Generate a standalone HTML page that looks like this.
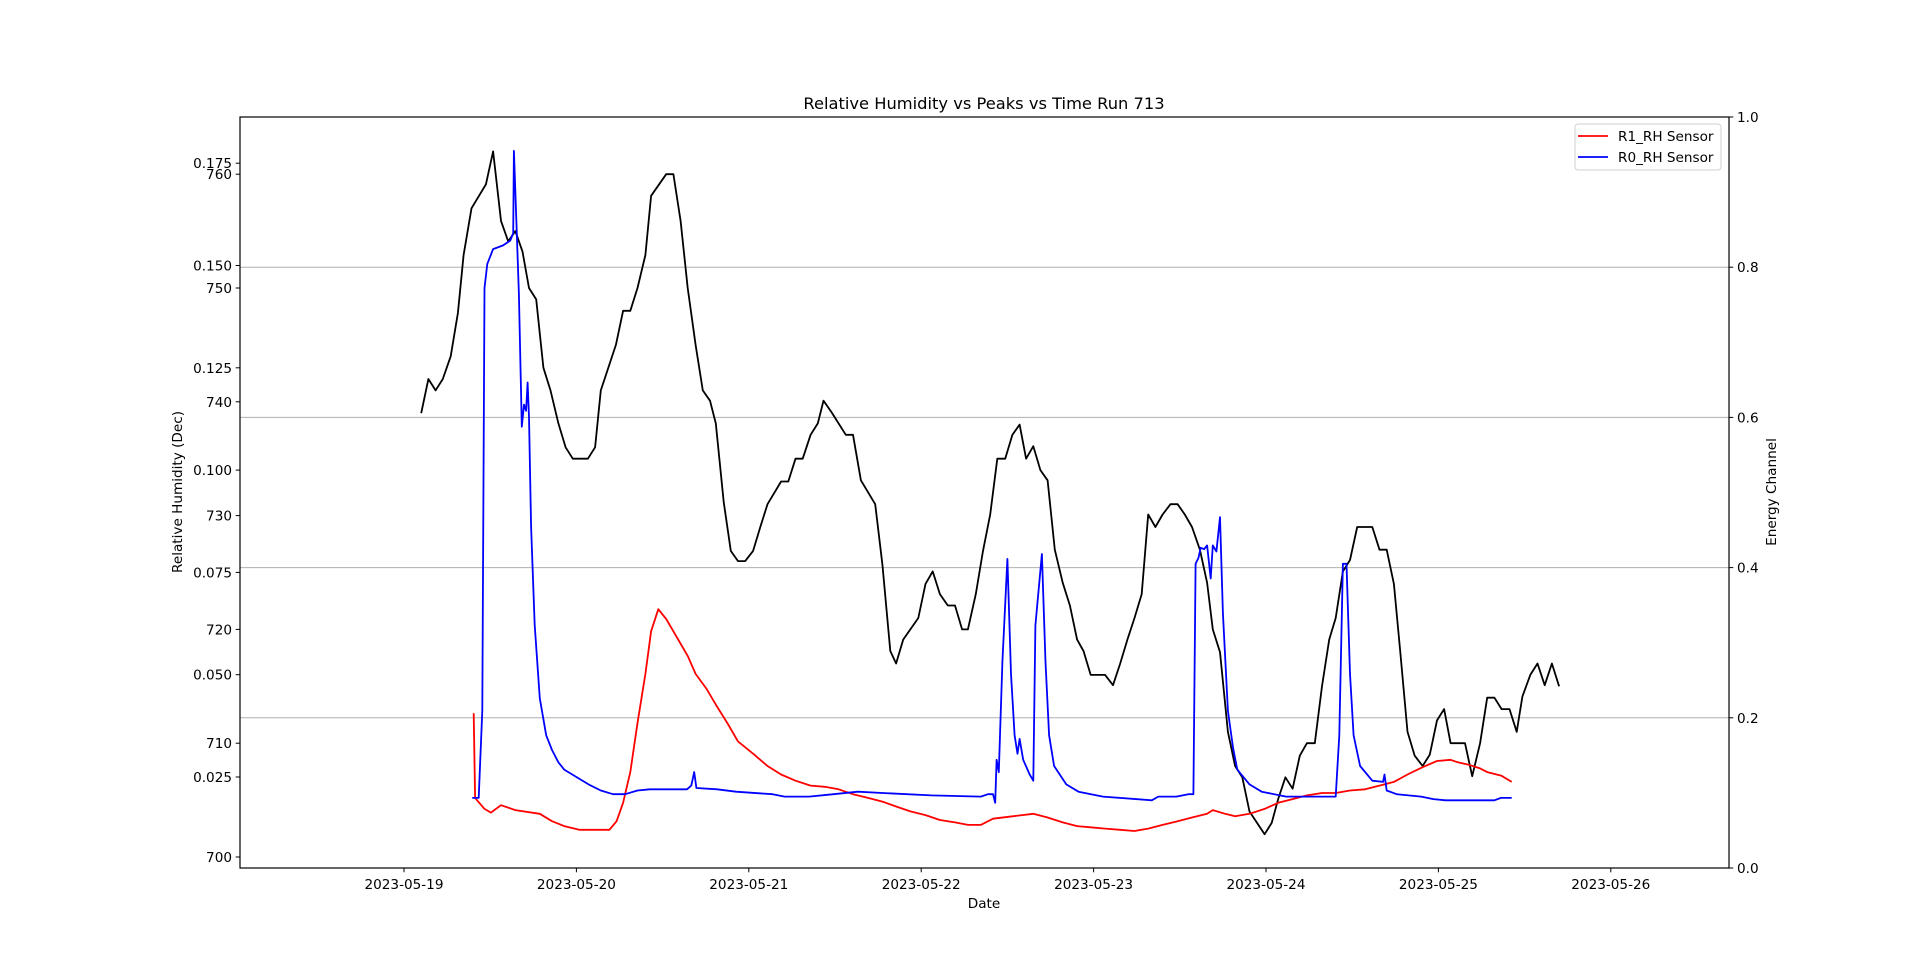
<!DOCTYPE html>
<html><head><meta charset="utf-8"><style>
html,body{margin:0;padding:0;background:#fff;}
svg text{font-family:"DejaVu Sans","Liberation Sans",sans-serif;fill:#000;}
</style></head><body>
<svg id="chart" width="1920" height="975" viewBox="0 0 1920 975" xmlns="http://www.w3.org/2000/svg">
<rect x="0" y="0" width="1920" height="975" fill="#fff"/>
<g id="grid"></g>
<g id="series"></g>
<rect x="240" y="117" width="1489" height="751" fill="none" stroke="#000" stroke-width="1.2"/>
<g id="axes"></g>
<text x="984" y="109" font-size="16.3" text-anchor="middle">Relative Humidity vs Peaks vs Time Run 713</text>
<text x="984" y="908" font-size="13.6" text-anchor="middle">Date</text>
<text transform="translate(182,492) rotate(-90)" font-size="13.6" text-anchor="middle">Relative Humidity (Dec)</text>
<text transform="translate(1776,492) rotate(-90)" font-size="13.6" text-anchor="middle">Energy Channel</text>
<g>
<rect x="1575" y="124" width="146" height="46" rx="3" fill="#fff" fill-opacity="0.8" stroke="#d0d0d0"/>
<line x1="1578" y1="136" x2="1608" y2="136" stroke="#ff0000" stroke-width="1.8"/>
<text x="1618" y="141" font-size="13.6">R1_RH Sensor</text>
<line x1="1578" y1="157" x2="1608" y2="157" stroke="#0000ff" stroke-width="1.8"/>
<text x="1618" y="162" font-size="13.6">R0_RH Sensor</text>
</g>
</svg>
<script>
// Data (time in hours since 2023-05-19 00:00)
const xTickLabels = ["2023-05-19","2023-05-20","2023-05-21","2023-05-22","2023-05-23","2023-05-24","2023-05-25","2023-05-26"];
const rhTickLabels = ["0.025","0.050","0.075","0.100","0.125","0.150","0.175"];
const rhTickValues = [0.025,0.05,0.075,0.1,0.125,0.15,0.175];
const peakTickValues = [700,710,720,730,740,750,760];
const rightTickValues = [0,0.2,0.4,0.6,0.8,1.0];
const rightTickLabels = ["0.0","0.2","0.4","0.6","0.8","1.0"];

const peakHours = [2.4,3.4,4.4,5.4,6.5,7.5,8.3,9.4,11.4,12.4,13.5,14.5,15.5,16.5,17.4,18.4,19.4,20.4,21.5,22.5,23.5,25.6,26.6,27.4,29.5,30.5,31.5,32.5,33.6,34.4,36.5,37.5,38.5,39.5,40.6,41.6,42.6,43.4,44.5,45.5,46.5,47.5,48.6,49.6,50.6,52.5,53.5,54.5,55.5,56.6,57.6,58.4,59.5,61.5,62.5,63.6,65.6,66.6,67.7,68.5,69.5,71.6,72.6,73.6,74.6,75.7,76.7,77.7,78.5,79.6,80.6,81.6,82.6,83.7,84.7,85.7,86.6,87.6,88.6,89.6,90.6,91.7,92.7,93.7,94.6,95.6,97.6,98.7,99.7,100.7,101.7,102.7,103.6,104.6,105.6,106.7,107.7,108.7,109.7,110.8,111.8,112.6,113.6,114.7,115.7,116.7,117.7,119.8,120.8,121.7,122.7,123.7,124.7,125.7,126.8,127.8,128.8,129.7,130.7,131.7,132.7,134.8,135.8,136.8,137.8,138.7,139.7,140.7,141.8,142.8,143.8,144.8,145.7,147.7,148.7,149.8,150.8,151.8,152.8,153.9,154.9,155.7,156.8,157.8,158.8,159.8,160.8];
const peakValues = [739.0,742.0,741.0,742.0,744.0,747.8,752.9,757.0,759.1,762.0,755.9,754.1,755.0,753.2,750.0,749.0,743.0,741.0,738.1,736.0,735.0,735.0,736.0,741.0,745.0,748.0,748.0,750.0,752.9,758.1,760.0,760.0,755.9,750.0,745.0,741.0,740.1,738.1,731.2,726.9,726.0,726.0,726.9,729.0,731.0,733.0,733.0,735.0,735.0,737.1,738.1,740.1,739.1,737.1,737.1,733.1,731.0,725.7,718.1,717.0,719.1,721.0,724.0,725.1,723.1,722.1,722.1,720.0,720.0,723.1,726.9,730.1,735.0,735.0,737.1,738.0,735.0,736.1,734.0,733.1,727.0,724.1,722.1,719.1,718.1,716.0,716.0,715.1,717.0,719.1,721.0,723.1,730.1,729.0,730.1,731.0,731.0,730.1,729.0,727.0,724.1,720.0,718.0,711.0,708.0,707.0,704.0,702.0,703.0,705.1,707.0,706.0,708.9,710.0,710.0,715.0,719.1,721.0,725.1,726.1,729.0,729.0,727.0,727.0,724.0,718.0,711.0,708.9,708.0,709.0,712.0,713.0,710.0,710.0,707.1,710.0,714.0,714.0,713.0,713.0,711.0,714.1,716.0,717.0,715.1,717.0,715.0];

const r1Hours = [9.7,9.9,11.2,12.1,13.5,15.5,18.9,20.6,22.3,24.4,28.6,29.6,30.5,31.5,32.5,33.6,34.4,35.4,36.5,38.0,39.5,40.6,42.1,43.4,45.0,46.5,48.6,50.6,52.5,54.5,56.6,58.6,60.5,62.5,64.6,66.6,68.5,70.5,72.6,74.6,76.7,78.5,80.3,82.0,84.7,87.6,89.6,91.7,93.7,95.6,97.6,99.7,101.7,103.6,105.6,107.7,109.7,111.8,112.6,114.3,115.7,117.7,119.8,121.7,123.7,125.7,127.8,129.7,131.7,133.8,135.8,137.8,139.7,141.8,143.8,145.7,146.7,148.2,149.8,150.8,152.8,154.2];
const r1Values = [0.0406,0.0199,0.0172,0.0163,0.0181,0.0169,0.0160,0.0142,0.0130,0.0121,0.0121,0.0142,0.0187,0.0262,0.0382,0.0502,0.0606,0.0660,0.0636,0.0591,0.0546,0.0502,0.0466,0.0427,0.0382,0.0337,0.0307,0.0277,0.0256,0.0241,0.0229,0.0226,0.0220,0.0208,0.0199,0.0190,0.0178,0.0166,0.0157,0.0145,0.0139,0.0133,0.0133,0.0148,0.0154,0.0160,0.0151,0.0139,0.0130,0.0127,0.0124,0.0121,0.0118,0.0124,0.0133,0.0142,0.0151,0.0160,0.0169,0.0160,0.0154,0.0160,0.0172,0.0187,0.0196,0.0205,0.0211,0.0211,0.0217,0.0220,0.0229,0.0238,0.0256,0.0274,0.0289,0.0292,0.0286,0.0280,0.0271,0.0262,0.0253,0.0238];

const r0Hours = [9.5,10.4,10.9,11.2,11.6,12.4,13.8,14.8,15.2,15.3,15.7,16.0,16.4,16.7,17.0,17.2,17.4,17.7,18.2,18.9,19.8,20.6,21.5,22.3,24.0,25.7,27.4,29.1,30.8,32.5,34.2,39.4,40.0,40.4,40.7,43.6,46.2,51.3,53.0,56.4,59.8,63.2,66.6,73.4,80.3,81.3,82.0,82.3,82.5,82.8,83.3,84.0,84.5,85.0,85.4,85.7,86.2,87.1,87.6,87.9,88.8,89.3,89.8,90.5,92.2,93.9,97.3,104.1,105.0,107.5,109.2,109.9,110.2,110.6,110.9,111.4,111.8,112.3,112.6,113.1,113.6,114.0,114.7,115.4,116.0,117.7,119.4,122.8,129.7,130.2,130.7,131.2,131.7,132.2,133.1,134.8,136.3,136.5,136.8,138.2,141.6,143.3,145.0,151.8,152.7,154.2];
const r0Values = [0.0199,0.0199,0.0412,0.1445,0.1504,0.1540,0.1549,0.1561,0.1579,0.1780,0.1579,0.1430,0.1106,0.1160,0.1145,0.1214,0.1130,0.0861,0.0621,0.0442,0.0352,0.0316,0.0286,0.0268,0.0250,0.0232,0.0217,0.0208,0.0208,0.0217,0.0220,0.0220,0.0229,0.0262,0.0223,0.0220,0.0214,0.0208,0.0202,0.0202,0.0208,0.0214,0.0211,0.0205,0.0202,0.0208,0.0208,0.0187,0.0292,0.0262,0.0531,0.0783,0.0502,0.0352,0.0307,0.0343,0.0292,0.0256,0.0241,0.0621,0.0795,0.0531,0.0352,0.0277,0.0232,0.0214,0.0202,0.0193,0.0202,0.0202,0.0208,0.0208,0.0771,0.0786,0.0810,0.0807,0.0816,0.0735,0.0816,0.0801,0.0885,0.0651,0.0412,0.0322,0.0268,0.0232,0.0214,0.0202,0.0202,0.0352,0.0771,0.0771,0.0502,0.0352,0.0277,0.0241,0.0238,0.0256,0.0217,0.0208,0.0202,0.0196,0.0193,0.0193,0.0199,0.0199];

const NS = "http://www.w3.org/2000/svg";
const L = 240, R = 1729, T = 117, B = 868;
function xScale(h){ return 404 + h / 24 * 172.4; }
function yRH(v){ return 777 - (v - 0.025) / 0.025 * 102.3; }
function yPeak(v){ return 857 - (v - 700) * 11.38; }
function yRight(v){ return B - v * (B - T); }
function mk(tag, attrs, parent){
  const e = document.createElementNS(NS, tag);
  for (const k in attrs) e.setAttribute(k, attrs[k]);
  parent.appendChild(e); return e;
}
const grid = document.getElementById('grid');
const axes = document.getElementById('axes');
const series = document.getElementById('series');

rightTickValues.forEach((v, i) => {
  const y = yRight(v);
  if (v > 0 && v < 1) {
    const g = mk('line', {x1:L, x2:R, y1:y, y2:y, stroke:'#b0b0b0', 'stroke-width':1}, grid);
    
    
  }
  const t = mk('line', {x1:R, x2:R+4.3, y1:y, y2:y, stroke:'#000', 'stroke-width':1}, axes);
  
  
  const lb = mk('text', {x:R+8, y:y+5, 'font-size':13.6}, axes);
  lb.textContent = rightTickLabels[i];
  
  
});
rhTickValues.forEach((v, i) => {
  const y = yRH(v);
  const t = mk('line', {x1:L-4.3, x2:L, y1:y, y2:y, stroke:'#000', 'stroke-width':1}, axes);
  
  
  const lb = mk('text', {x:L-8, y:y+5, 'font-size':13.6, 'text-anchor':'end'}, axes);
  lb.textContent = rhTickLabels[i];
  
  
});
peakTickValues.forEach((v) => {
  const y = yPeak(v);
  const t = mk('line', {x1:L-4.3, x2:L, y1:y, y2:y, stroke:'#000', 'stroke-width':1}, axes);
  
  
  const lb = mk('text', {x:L-8, y:y+5, 'font-size':13.6, 'text-anchor':'end'}, axes);
  lb.textContent = String(v);
  
  
});
xTickLabels.forEach((s, i) => {
  const x = xScale(i * 24);
  const t = mk('line', {x1:x, x2:x, y1:B, y2:B+4.3, stroke:'#000', 'stroke-width':1}, axes);
  
  
  const lb = mk('text', {x:x, y:B+21, 'font-size':13.6, 'text-anchor':'middle'}, axes);
  lb.textContent = s;
  
  
});
function line(hs, vs, ys, color, name){
  const d = hs.map((h, i) => (i ? 'L' : 'M') + xScale(h).toFixed(1) + ',' + ys(vs[i]).toFixed(1)).join(' ');
  const p = mk('path', {d:d, fill:'none', stroke:color, 'stroke-width':1.8, 'stroke-linejoin':'round'}, series);
  
  
}
line(peakHours, peakValues, yPeak, '#000000', 'peaks-line');
line(r1Hours, r1Values, yRH, '#ff0000', 'r1-rh-line');
line(r0Hours, r0Values, yRH, '#0000ff', 'r0-rh-line');
</script>
</body></html>
